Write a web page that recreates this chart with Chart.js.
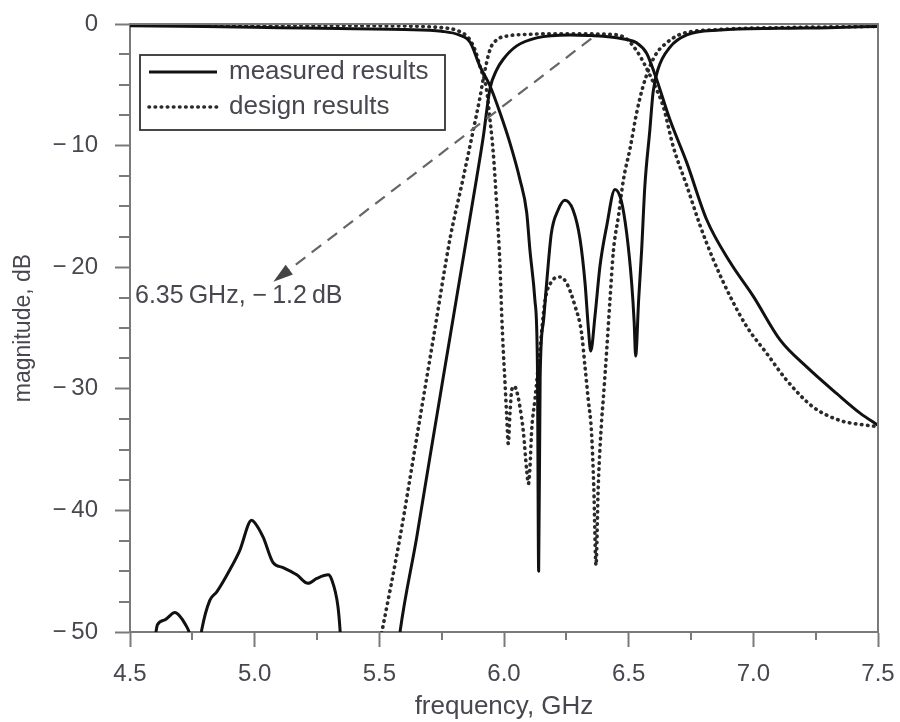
<!DOCTYPE html>
<html><head><meta charset="utf-8">
<script src="https://cdn.jsdelivr.net/npm/chart.js@4/dist/chart.umd.min.js"></script>
<style>html,body{margin:0;padding:0;background:#fff}</style>
</head><body>
<canvas id="c" width="900" height="722"></canvas>
<script>
// ---- data ----
const xTickValues = [4.5, 5.0, 5.5, 6.0, 6.5, 7.0, 7.5];
const yTickValues = [0, -10, -20, -30, -40, -50];
const xMinorTicks = [4.75, 5.25, 5.75, 6.25, 6.75, 7.25];
const yMinorTicks = [-2.5, -5, -7.5, -12.5, -15, -17.5, -22.5, -25, -27.5, -32.5, -35, -37.5, -42.5, -45, -47.5];

// measured transmission
const measS21Freq = [4.50, 4.60, 4.61, 4.64, 4.68, 4.70, 4.72, 4.74, 4.765, 4.788, 4.82, 4.848, 4.90, 4.94, 4.988, 5.00, 5.034, 5.074, 5.114, 5.169, 5.214, 5.249, 5.295, 5.309, 5.334, 5.342, 5.36, 5.45, 5.55, 5.583, 5.65, 5.703, 5.756, 5.81, 5.85, 5.89, 5.916, 5.944, 5.97, 5.997, 6.051, 6.131, 6.265, 6.35, 6.398, 6.492, 6.532, 6.572, 6.606, 6.666, 6.733, 6.813, 6.907, 7.0, 7.108, 7.214, 7.335, 7.428, 7.5];
const measS21Mag  = [-58, -50.5, -49.4, -49.0, -48.4, -48.7, -49.3, -50.2, -53, -49.8, -47.4, -46.7, -44.9, -43.3, -40.8, -41.0, -42.2, -44.3, -44.7, -45.3, -46.0, -45.6, -45.3, -45.7, -47.9, -49.7, -56, -60, -56, -50, -42.2, -35.6, -29.1, -22.5, -17.6, -12.7, -9.4, -5.3, -3.8, -2.9, -1.8, -1.14, -0.9, -0.95, -1.0, -1.28, -1.55, -2.4, -4.2, -7.9, -11.4, -16.1, -19.6, -22.4, -26.0, -28.2, -30.4, -32.0, -33.0];

// measured reflection
const measS11Freq = [4.5, 4.8, 5.1, 5.4, 5.6, 5.75, 5.82, 5.864, 5.904, 5.944, 5.984, 6.024, 6.064, 6.091, 6.104, 6.124, 6.134, 6.139, 6.145, 6.158, 6.171, 6.19, 6.217, 6.244, 6.277, 6.305, 6.325, 6.338, 6.348, 6.365, 6.385, 6.412, 6.445, 6.47, 6.492, 6.512, 6.522, 6.528, 6.54, 6.552, 6.565, 6.585, 6.598, 6.618, 6.666, 6.733, 6.867, 7.1, 7.3, 7.5];
const measS11Mag  = [-0.15, -0.2, -0.3, -0.4, -0.45, -0.6, -0.9, -1.5, -3.5, -5.1, -7.3, -9.8, -12.8, -15.5, -18.6, -22.7, -28, -45, -29, -24.5, -21.3, -17.2, -15.3, -14.5, -15.3, -17.7, -21.3, -24.9, -26.9, -24.0, -19.9, -16.6, -13.6, -14.5, -17.2, -21.3, -24.5, -27.3, -22.7, -18.6, -13.3, -8.7, -5.6, -3.7, -1.9, -0.9, -0.5, -0.35, -0.3, -0.2];

// design transmission
const desS21Freq = [5.45, 5.51, 5.583, 5.65, 5.717, 5.784, 5.836, 5.876, 5.904, 5.916, 5.944, 5.971, 6.01, 6.104, 6.25, 6.437, 6.49, 6.532, 6.558, 6.585, 6.61, 6.639, 6.679, 6.733, 6.787, 6.84, 6.907, 6.974, 7.054, 7.134, 7.24, 7.347, 7.455, 7.5];
const desS21Mag  = [-56, -50, -42.2, -34.0, -25.8, -17.6, -12.7, -8.8, -6.0, -4.6, -2.1, -1.3, -1.0, -0.85, -0.8, -0.86, -1.2, -2.2, -3.1, -4.2, -5.3, -6.8, -10.1, -13.3, -16.6, -19.4, -22.4, -24.9, -27.1, -29.3, -31.5, -32.6, -33.0, -33.1];

// design reflection
const desS11Freq = [4.5, 5.0, 5.5, 5.75, 5.82, 5.86, 5.885, 5.904, 5.93, 5.944, 5.957, 5.971, 5.984, 5.991, 5.997, 6.004, 6.011, 6.017, 6.024, 6.031, 6.042, 6.051, 6.064, 6.078, 6.091, 6.098, 6.104, 6.111, 6.124, 6.144, 6.165, 6.19, 6.225, 6.251, 6.285, 6.311, 6.325, 6.338, 6.351, 6.36, 6.369, 6.378, 6.392, 6.398, 6.412, 6.425, 6.439, 6.459, 6.479, 6.505, 6.532, 6.558, 6.585, 6.612, 6.652, 6.706, 6.867, 7.1, 7.5];
const desS11Mag  = [-0.05, -0.1, -0.15, -0.3, -0.6, -1.2, -2.2, -3.5, -5.4, -7.9, -10.6, -15.0, -19.9, -24.0, -26.8, -29.5, -32.3, -34.5, -32.0, -30.1, -29.8, -30.2, -31.5, -33.6, -36.7, -37.8, -36.5, -33.4, -30.9, -26.8, -22.7, -21.2, -20.8, -21.3, -23.2, -25.4, -28.2, -30.9, -33.6, -38, -44.5, -38, -32.5, -30.9, -26.8, -22.7, -18.6, -15.8, -12.8, -10.3, -7.3, -5.1, -3.5, -2.4, -1.55, -0.86, -0.45, -0.3, -0.2];

const seriesLabels = ['measured results', 'design results'];
const annotationText = '6.35\u2009GHz, \u2212\u20091.2\u2009dB';
const annotationFrom = {f: 6.35, m: -1.2};
const annotationTip = {f: 5.075, m: -21.2};
const annotationLabelAt = {f: 4.52, m: -22.4};

// ---- styling ----
const FONT = "'Liberation Sans', Arial, sans-serif";
const TEXT = '#47474f';
const AXIS = '#7a7a7a';
const solidStyle = {borderColor: '#111', borderWidth: 3, pointRadius: 0, cubicInterpolationMode: 'monotone', borderJoinStyle: 'round'};
const dotStyle = {borderColor: '#2a2a2a', borderWidth: 3.6, borderDash: [0.5, 5.6], borderCapStyle: 'round', pointRadius: 0, cubicInterpolationMode: 'monotone'};

const pts = (fs, ms) => fs.map((f, i) => ({x: f, y: ms[i]}));
const noPad = s => { s.paddingTop = 0; s.paddingBottom = 0; s.paddingLeft = 0; s.paddingRight = 0; };

const framePlugin = {
  id: 'frame',
  afterDatasetsDraw(chart) {
    const {ctx, chartArea: a, scales: {x, y}} = chart;
    ctx.save();
    // top & right frame
    ctx.strokeStyle = AXIS; ctx.lineWidth = 2;
    ctx.beginPath(); ctx.moveTo(a.left, a.top); ctx.lineTo(a.right, a.top); ctx.lineTo(a.right, a.bottom); ctx.stroke();
    // minor ticks
    ctx.beginPath();
    xMinorTicks.forEach(v => { const px = Math.round(x.getPixelForValue(v)); ctx.moveTo(px, a.bottom); ctx.lineTo(px, a.bottom + 8); });
    yMinorTicks.forEach(v => { const py = Math.round(y.getPixelForValue(v)); ctx.moveTo(a.left, py); ctx.lineTo(a.left - 11, py); });
    ctx.stroke();

    // annotation arrow (dashed)
    const x0 = x.getPixelForValue(annotationFrom.f), y0 = y.getPixelForValue(annotationFrom.m);
    const x1 = x.getPixelForValue(annotationTip.f), y1 = y.getPixelForValue(annotationTip.m);
    const ang = Math.atan2(y1 - y0, x1 - x0);
    const headLen = 20, headW = 6;
    const bx = x1 - headLen * Math.cos(ang), by = y1 - headLen * Math.sin(ang);
    ctx.strokeStyle = '#666'; ctx.lineWidth = 2.2; ctx.setLineDash([12, 8]);
    ctx.beginPath(); ctx.moveTo(x0, y0); ctx.lineTo(bx, by); ctx.stroke();
    ctx.setLineDash([]);
    ctx.fillStyle = '#444';
    ctx.beginPath();
    ctx.moveTo(x1, y1);
    ctx.lineTo(bx + headW * Math.sin(ang), by - headW * Math.cos(ang));
    ctx.lineTo(bx - headW * Math.sin(ang), by + headW * Math.cos(ang));
    ctx.closePath(); ctx.fill();
    ctx.font = '25px ' + FONT; ctx.fillStyle = TEXT; ctx.textAlign = 'left'; ctx.textBaseline = 'middle';
    ctx.fillText(annotationText, x.getPixelForValue(annotationLabelAt.f), y.getPixelForValue(annotationLabelAt.m));

    // legend box
    const lx = a.left + 10, ly = a.top + 31, lw = 305, lh = 75;
    ctx.fillStyle = '#fff'; ctx.fillRect(lx, ly, lw, lh);
    ctx.strokeStyle = '#333'; ctx.lineWidth = 1.8; ctx.strokeRect(lx, ly, lw, lh);
    const ds = chart.data.datasets;
    [[ds[0], ly + 17], [ds[2], ly + 52]].forEach(([d, yy]) => {
      ctx.save();
      ctx.strokeStyle = d.borderColor; ctx.lineWidth = d.borderWidth;
      ctx.lineCap = d.borderCapStyle || 'butt';
      ctx.setLineDash(d.borderDash || []);
      ctx.beginPath(); ctx.moveTo(lx + 9, yy); ctx.lineTo(lx + 77, yy); ctx.stroke();
      ctx.restore();
      ctx.font = '26px ' + FONT; ctx.fillStyle = TEXT; ctx.textAlign = 'left'; ctx.textBaseline = 'middle';
      ctx.fillText(d.label, lx + 89, yy);
    });
    ctx.restore();
  }
};

new Chart(document.getElementById('c'), {
  type: 'line',
  data: {
    datasets: [
      Object.assign({label: seriesLabels[0], data: pts(measS21Freq, measS21Mag)}, solidStyle),
      Object.assign({label: seriesLabels[0], data: pts(measS11Freq, measS11Mag)}, solidStyle),
      Object.assign({label: seriesLabels[1], data: pts(desS21Freq, desS21Mag)}, dotStyle),
      Object.assign({label: seriesLabels[1], data: pts(desS11Freq, desS11Mag)}, dotStyle)
    ]
  },
  options: {
    responsive: false, animation: false, devicePixelRatio: 1,
    layout: {padding: {top: 24, right: 22, left: 0, bottom: 0}},
    plugins: {legend: {display: false}, tooltip: {enabled: false}},
    scales: {
      x: {
        type: 'linear', min: 4.5, max: 7.5,
        afterBuildTicks: s => { s.ticks = xTickValues.map(v => ({value: v})); },
        ticks: {callback: v => v.toFixed(1), font: {family: FONT, size: 24}, color: TEXT, padding: 13, maxRotation: 0, autoSkip: false},
        grid: {display: true, drawOnChartArea: false, drawTicks: true, tickLength: 15, tickWidth: 2, tickColor: AXIS},
        border: {display: true, color: AXIS, width: 2},
        title: {display: true, text: 'frequency, GHz', font: {family: FONT, size: 26}, color: TEXT, padding: {top: 0, bottom: 0}},
        afterFit: s => { s.height = 90; noPad(s); }
      },
      y: {
        type: 'linear', min: -50, max: 0,
        afterBuildTicks: s => { s.ticks = yTickValues.map(v => ({value: v})); },
        ticks: {callback: v => v === 0 ? '0' : '\u2212\u2009' + Math.abs(v), font: {family: FONT, size: 24}, color: TEXT, padding: 17},
        grid: {display: true, drawOnChartArea: false, drawTicks: true, tickLength: 15, tickWidth: 2, tickColor: AXIS},
        border: {display: true, color: AXIS, width: 2},
        title: {display: true, text: 'magnitude, dB', font: {family: FONT, size: 23}, color: TEXT, padding: {top: 10, bottom: 0}},
        afterFit: s => { s.width = 130; noPad(s); }
      }
    }
  },
  plugins: [framePlugin]
});
</script>
</body></html>
